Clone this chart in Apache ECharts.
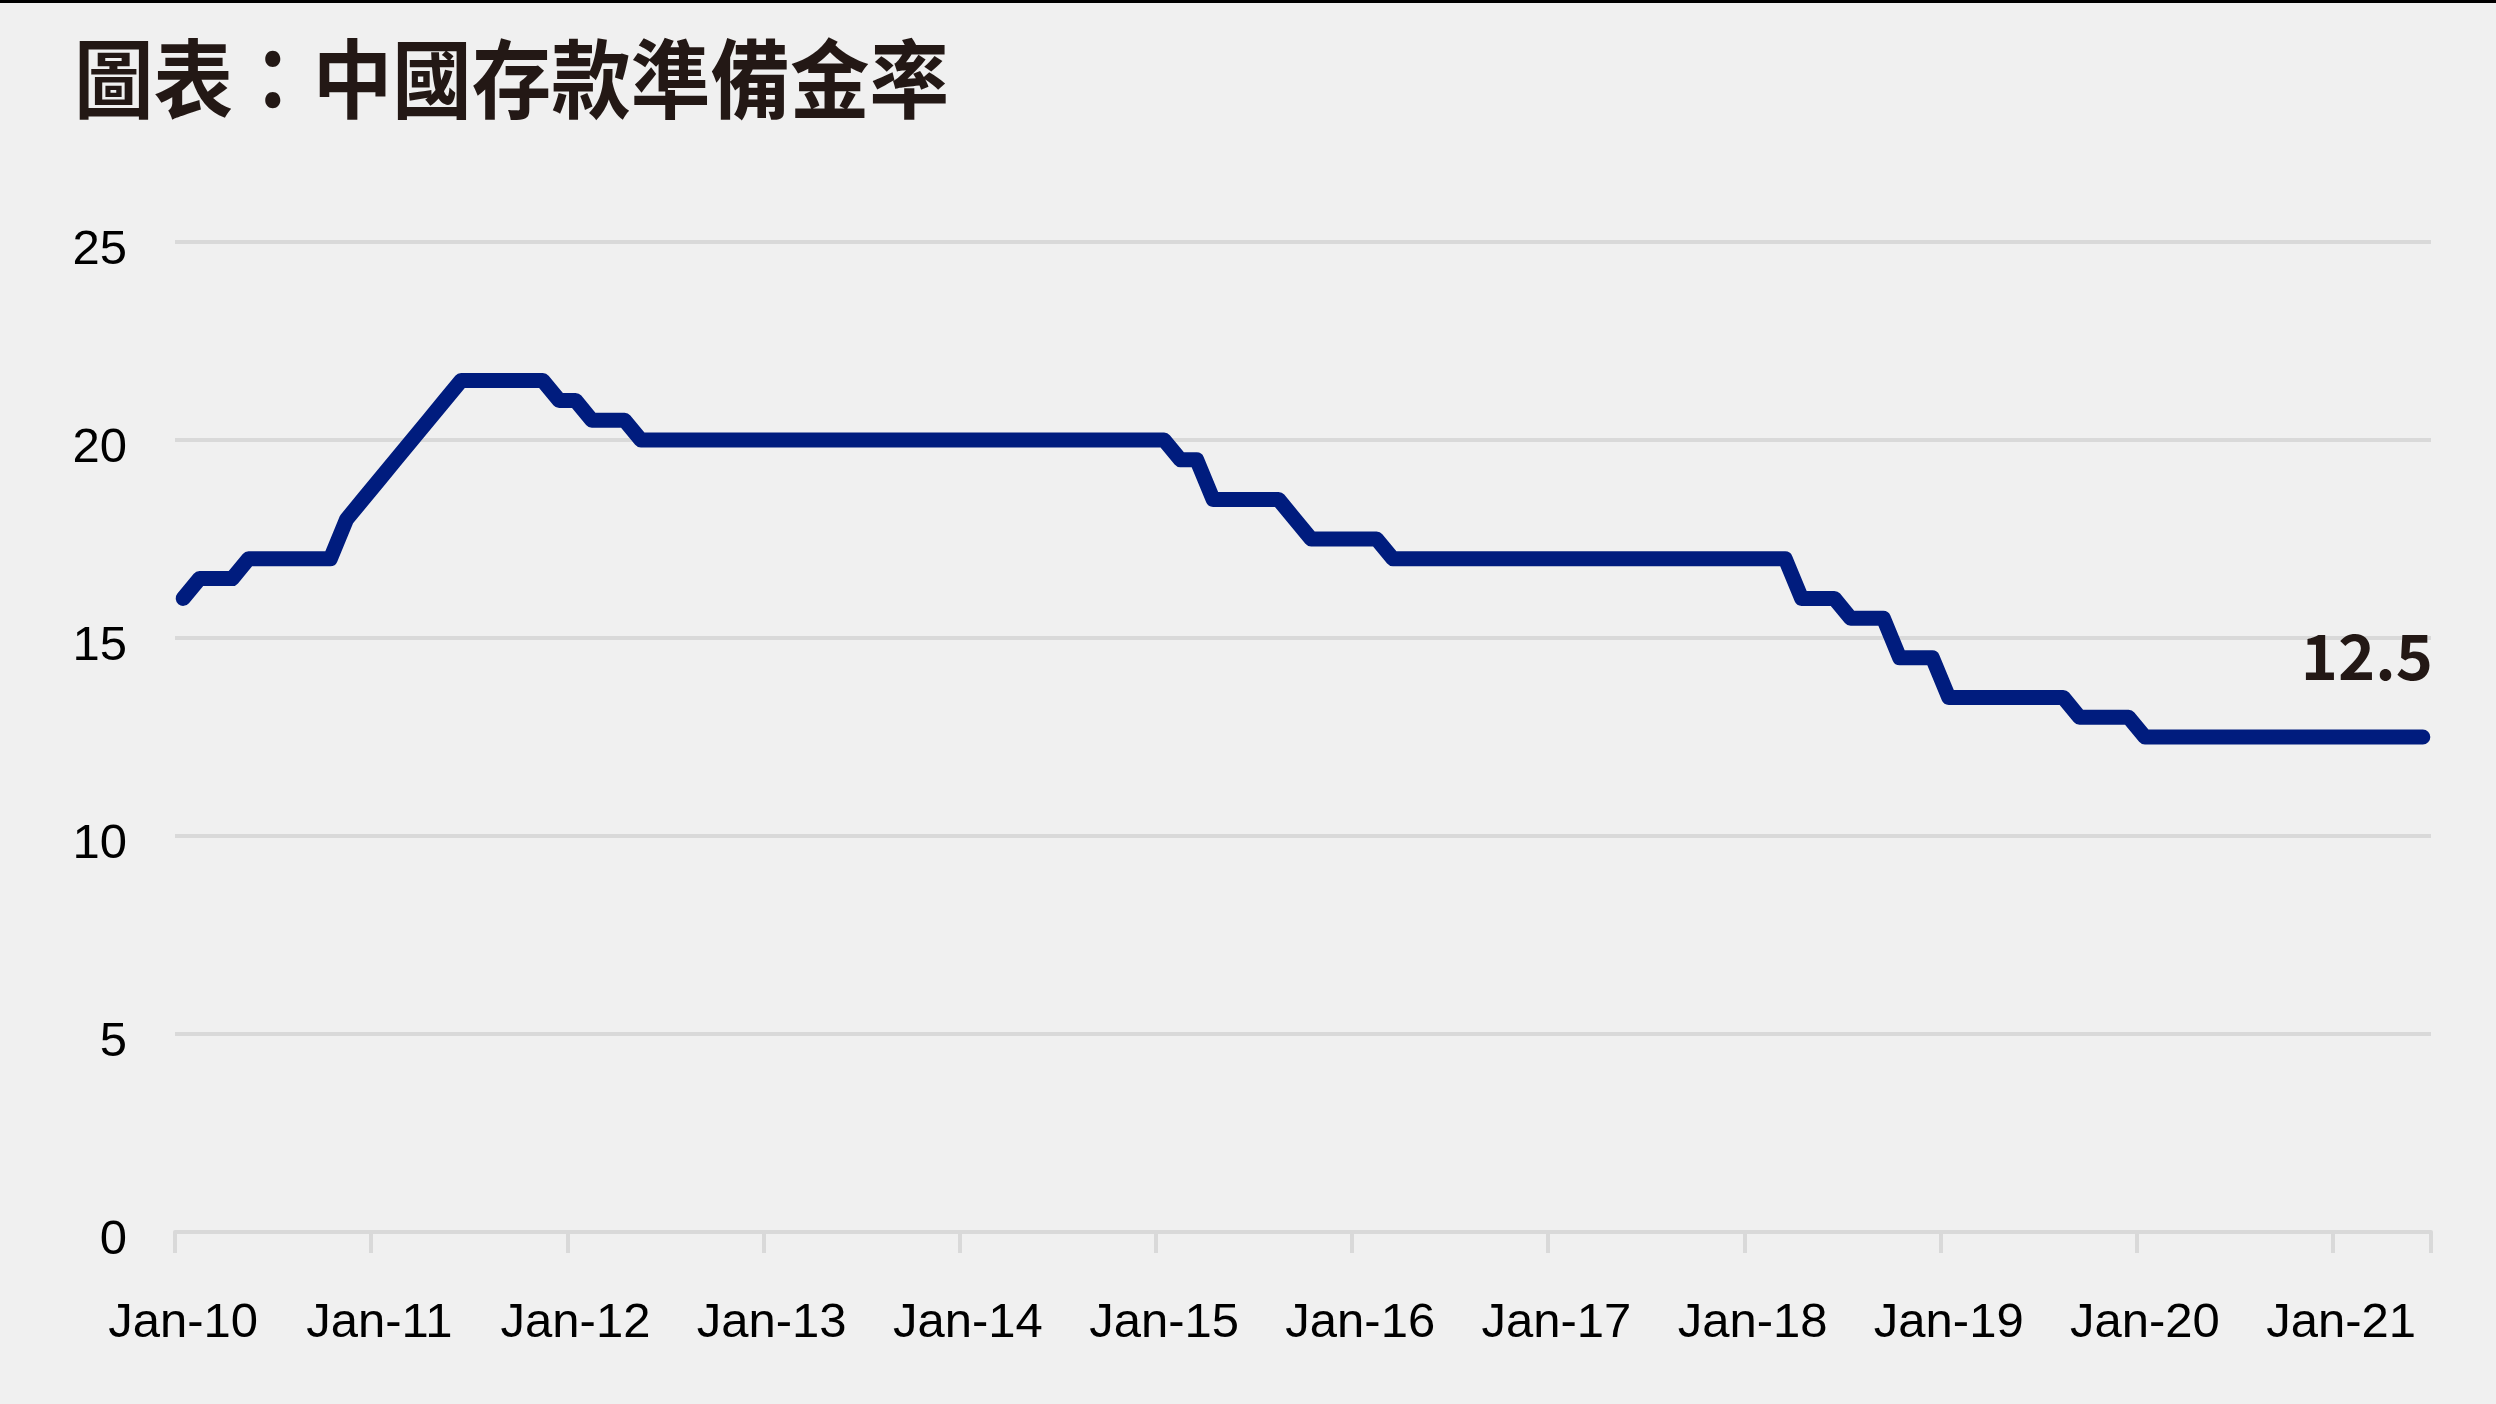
<!DOCTYPE html>
<html>
<head>
<meta charset="utf-8">
<title>圖表：中國存款準備金率</title>
<script src="https://cdn.jsdelivr.net/npm/echarts@6/dist/echarts.min.js"></script>
<style>
  html, body { margin: 0; padding: 0; background: #f0f0f0; }
  #chart { width: 2496px; height: 1404px; }
</style>
</head>
<body>
<div id="chart"></div>
<script>
  // monthly, Jan-10 .. Jun-21
  var years = ['10', '11', '12', '13', '14', '15', '16', '17', '18', '19', '20', '21'];
  var months = ['Jan', 'Feb', 'Mar', 'Apr', 'May', 'Jun', 'Jul', 'Aug', 'Sep', 'Oct', 'Nov', 'Dec'];
  var lastMonthCount = 6;

  var rrr2010 = [16, 16.5, 16.5, 16.5, 17, 17, 17, 17, 17, 17, 18, 18.5];
  var rrr2011 = [19, 19.5, 20, 20.5, 21, 21.5, 21.5, 21.5, 21.5, 21.5, 21.5, 21];
  var rrr2012 = [21, 20.5, 20.5, 20.5, 20, 20, 20, 20, 20, 20, 20, 20];
  var rrr2013 = [20, 20, 20, 20, 20, 20, 20, 20, 20, 20, 20, 20];
  var rrr2014 = [20, 20, 20, 20, 20, 20, 20, 20, 20, 20, 20, 20];
  var rrr2015 = [20, 19.5, 19.5, 18.5, 18.5, 18.5, 18.5, 18.5, 18, 17.5, 17.5, 17.5];
  var rrr2016 = [17.5, 17.5, 17, 17, 17, 17, 17, 17, 17, 17, 17, 17];
  var rrr2017 = [17, 17, 17, 17, 17, 17, 17, 17, 17, 17, 17, 17];
  var rrr2018 = [17, 17, 17, 16, 16, 16, 15.5, 15.5, 15.5, 14.5, 14.5, 14.5];
  var rrr2019 = [13.5, 13.5, 13.5, 13.5, 13.5, 13.5, 13.5, 13.5, 13, 13, 13, 13];
  var rrr2020 = [12.5, 12.5, 12.5, 12.5, 12.5, 12.5, 12.5, 12.5, 12.5, 12.5, 12.5, 12.5];
  var rrr2021 = [12.5, 12.5, 12.5, 12.5, 12.5, 12.5];

  var yTicks = [0, 5, 10, 15, 20, 25];
  var lastLabel = '12.5';

  var categories = [];
  years.forEach(function (y, i) {
    var n = (i === years.length - 1) ? lastMonthCount : 12;
    for (var m = 0; m < n; m++) {
      categories.push(months[m] + '-' + y);
    }
  });
  var values = [].concat(rrr2010, rrr2011, rrr2012, rrr2013, rrr2014, rrr2015,
    rrr2016, rrr2017, rrr2018, rrr2019, rrr2020, rrr2021);

  function isJan(index) {
    return index % 12 === 0;
  }

  var chart = echarts.init(document.getElementById('chart'));
  var option = {
    backgroundColor: '#f0f0f0',
    animation: false,
    graphic: [{
      type: 'rect',
      x: 0,
      y: 0,
      shape: { width: 2496, height: 3 },
      style: { fill: '#000' }
    }, {
      // title, squeezed a little to match the condensed heading
      type: 'text',
      x: 74,
      y: 36,
      scaleX: 0.925,
      style: {
        text: '圖表：中國存款準備金率',
        font: 'bold 86px "Noto Sans CJK TC"',
        fill: '#231815'
      }
    }],
    grid: {
      left: 175,
      right: 65,
      top: 242,
      bottom: 172
    },
    xAxis: {
      type: 'category',
      data: categories,
      boundaryGap: true,
      axisLine: { lineStyle: { color: '#d9d9d9', width: 4 } },
      axisTick: {
        show: true,
        interval: isJan,
        length: 21,
        lineStyle: { color: '#d9d9d9', width: 4 }
      },
      axisLabel: {
        interval: 11,
        margin: 67,
        fontFamily: 'Liberation Sans, Arial, sans-serif',
        fontSize: 49,
        color: '#000'
      },
      splitLine: { show: false }
    },
    yAxis: {
      type: 'value',
      min: yTicks[0],
      max: yTicks[yTicks.length - 1],
      interval: 5,
      axisLine: { show: false },
      axisTick: { show: false },
      axisLabel: {
        margin: 48,
        formatter: '{v|{value}}',
        rich: {
          v: {
            padding: [16, 0, 0, 0],
            fontFamily: 'Liberation Sans, Arial, sans-serif',
            fontSize: 49,
            color: '#000'
          }
        }
      },
      splitLine: { lineStyle: { color: '#d9d9d9', width: 4 } }
    },
    series: [{
      type: 'line',
      data: values,
      showSymbol: false,
      symbol: 'none',
      lineStyle: { color: '#001c7e', width: 15, cap: 'round', join: 'round' },
      markPoint: {
        silent: true,
        symbol: 'circle',
        symbolSize: 1,
        itemStyle: { color: 'rgba(0,0,0,0)' },
        label: {
          show: true,
          position: 'top',
          align: 'right',
          offset: [10, -44],
          formatter: lastLabel,
          fontFamily: 'Noto Sans CJK TC',
          fontWeight: 'bold',
          fontSize: 63,
          color: '#231815'
        },
        data: [{ coord: [categories[categories.length - 1], values[values.length - 1]] }]
      }
    }]
  };
  chart.setOption(option);
</script>
</body>
</html>
